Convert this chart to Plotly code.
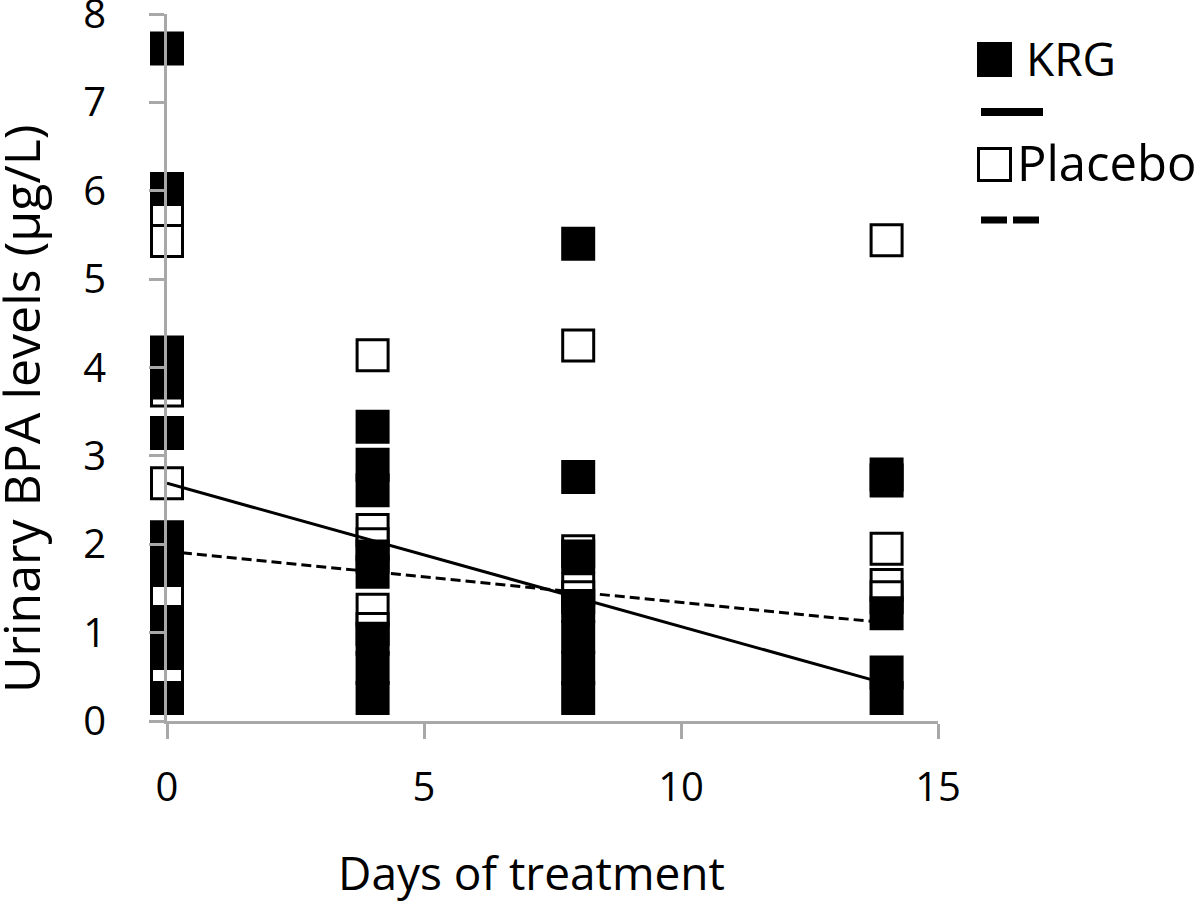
import plotly.graph_objects as go

# ---------------- data ----------------
krg_values = [7.61, 6.02, 4.17, 4.0, 3.83, 3.26, 2.08, 1.9, 1.71, 1.12, 0.95, 0.77, 0.26,
              3.33, 2.9, 2.61, 1.86, 1.69, 0.93, 0.6, 0.26,
              5.4, 2.76, 1.86, 1.30, 0.95, 0.6, 0.26,
              2.79, 2.72, 1.22, 0.55, 0.26]
krg_days = [0] * 13 + [4] * 8 + [8] * 7 + [14] * 5

placebo_values = [5.72, 5.43, 3.74, 2.69, 1.41, 0.51,
                  4.14, 2.16, 2.0, 1.26, 1.04,
                  4.25, 1.92, 1.49, 1.40,
                  5.44, 1.95, 1.54, 1.40]
placebo_days = [0] * 6 + [4] * 5 + [8] * 4 + [14] * 4

trend_days = [0, 14]
krg_trend = [2.69, 0.42]
placebo_trend = [1.92, 1.11]

x_ticks = [0, 5, 10, 15]
y_ticks = [0, 1, 2, 3, 4, 5, 6, 7, 8]
series_names = ["KRG", "Placebo"]
x_title = "Days of treatment"
y_title = "Urinary BPA levels (µg/L)"

# ---------------- layout helpers ----------------
W, H = 1200, 907
L, R, T, B = 167, 938, 14, 721          # plot area in window pixels
FONT = "Open Sans, Lato, DejaVu Sans, sans-serif"
AXIS_GRAY = "#a8a8a8"


def px(x):
    return (x - L) / (R - L)


def py(y):
    return (B - y) / (B - T)


fig = go.Figure()

fig.add_trace(go.Scatter(
    x=placebo_days, y=placebo_values, mode="markers", name=series_names[1],
    marker=dict(symbol="square", size=31, color="white",
                line=dict(color="black", width=3)),
    cliponaxis=False, showlegend=False))

fig.add_trace(go.Scatter(
    x=krg_days, y=krg_values, mode="markers", name=series_names[0],
    marker=dict(symbol="square", size=34, color="black", line=dict(width=0)),
    cliponaxis=False, showlegend=False))

fig.add_trace(go.Scatter(
    x=trend_days, y=krg_trend, mode="lines",
    line=dict(color="black", width=3), cliponaxis=False, showlegend=False))

fig.add_trace(go.Scatter(
    x=trend_days, y=placebo_trend, mode="lines",
    line=dict(color="black", width=3, dash="10px,5px"),
    cliponaxis=False, showlegend=False))

axis_common = dict(
    showline=True, linecolor=AXIS_GRAY, linewidth=3,
    ticks="outside", ticklen=15, tickwidth=3, tickcolor=AXIS_GRAY,
    showgrid=False, zeroline=False, automargin=False,
    ticklabeloverflow="allow",
    tickfont=dict(family=FONT, size=40, color="black"),
)

fig.update_xaxes(range=[0, 15], tickvals=x_ticks, ticklabelstandoff=14,
                 **axis_common)
fig.update_yaxes(range=[0, 8], tickvals=y_ticks, ticklabelstandoff=35,
                 **axis_common)

shapes = [
    dict(type="rect", xref="paper", yref="paper",
         x0=px(977), x1=px(1012), y0=py(77), y1=py(42),
         fillcolor="black", line=dict(width=0)),
    dict(type="line", xref="paper", yref="paper",
         x0=px(981), x1=px(1043), y0=py(112), y1=py(112),
         line=dict(color="black", width=8)),
    dict(type="rect", xref="paper", yref="paper",
         x0=px(978.5), x1=px(1010.5), y0=py(180.5), y1=py(148.5),
         fillcolor="white", line=dict(color="black", width=3)),
    dict(type="line", xref="paper", yref="paper",
         x0=px(981), x1=px(1043), y0=py(220), y1=py(220),
         line=dict(color="black", width=7, dash="26px,6px")),
]

annotations = [
    dict(text=series_names[0], xref="paper", yref="paper", x=px(1024), y=py(58),
         xanchor="left", yanchor="middle", showarrow=False,
         font=dict(family=FONT, size=46, color="black")),
    dict(text=series_names[1], xref="paper", yref="paper", x=px(1015), y=py(162),
         xanchor="left", yanchor="middle", showarrow=False,
         font=dict(family=FONT, size=49, color="black")),
    dict(text=x_title, xref="paper", yref="paper", x=px(531), y=py(872),
         xanchor="center", yanchor="middle", showarrow=False,
         font=dict(family=FONT, size=46, color="black")),
    dict(text=y_title, xref="paper", yref="paper", x=px(21), y=py(409),
         xanchor="center", yanchor="middle", showarrow=False, textangle=-90,
         font=dict(family=FONT, size=50, color="black")),
]

fig.update_layout(
    width=W, height=H, autosize=False,
    margin=dict(l=L, r=W - R, t=T, b=H - B, pad=0),
    paper_bgcolor="white", plot_bgcolor="white",
    showlegend=False,
    shapes=shapes, annotations=annotations,
    font=dict(family=FONT, color="black"),
)

# remove the browser's default 8px body margin so the figure sits at (0, 0)
fig.write_html("out.html",
               config={"displayModeBar": False},
               post_script="document.body.style.margin='0';")
